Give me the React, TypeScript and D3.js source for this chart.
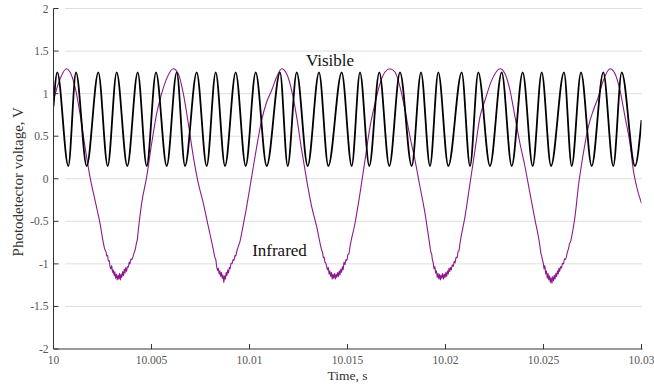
import React from 'react';
import * as d3 from 'd3';

// ---- Data (time offsets in ms after t = 10 s, voltages in V) ----
const X_TICKS = [10, 10.005, 10.01, 10.015, 10.02, 10.025, 10.03];
const X_TICK_LABELS = ['10', '10.005', '10.01', '10.015', '10.02', '10.025', '10.03'];
const Y_TICKS = [-2, -1.5, -1, -0.5, 0, 0.5, 1, 1.5, 2];
const Y_TICK_LABELS = ['-2', '-1.5', '-1', '-0.5', '0', '0.5', '1', '1.5', '2'];

// Visible channel: start, alternating peaks / troughs, end
const visMs = [
  0, 0.194, 0.755, 1.148, 1.694, 2.286, 2.765, 3.224, 3.765, 4.296, 4.755, 5.23, 5.776,
  6.286, 6.709, 7.306, 7.816, 8.276, 8.75, 9.296, 9.806, 10.316, 10.878, 11.556, 11.949,
  12.408, 12.969, 13.546, 14.02, 14.704, 15.214, 15.638, 16.112, 16.622, 17.133, 17.679,
  18.276, 18.75, 19.209, 19.633, 20.143, 20.827, 21.25, 21.673, 22.27, 22.867, 23.378,
  23.939, 24.449, 24.908, 25.383, 26.046, 26.439, 26.913, 27.459, 28.051, 28.561, 28.99,
  29.668, 30,
];
const visV = [
  0.85, 1.25, 0.15, 1.25, 0.15, 1.25, 0.15, 1.25, 0.15, 1.25, 0.15, 1.25, 0.15,
  1.25, 0.15, 1.25, 0.15, 1.25, 0.15, 1.25, 0.15, 1.25, 0.15, 1.25, 0.15,
  1.25, 0.15, 1.25, 0.15, 1.25, 0.15, 1.25, 0.15, 1.25, 0.15, 1.25,
  0.15, 1.25, 0.15, 1.25, 0.15, 1.25, 0.15, 1.25, 0.15, 1.25, 0.15,
  1.25, 0.15, 1.25, 0.15, 1.25, 0.15, 1.25, 0.15, 1.25, 0.15, 1.25,
  0.15, 0.69,
];

// Infrared channel, [ms, V], one array per cycle
const irCycle1: [number, number][] = [
  [0, 0.92], [0.247, 1.117], [0.672, 1.293], [0.842, 1.254], [1.097, 1.078], [1.352, 0.766],
  [1.607, 0.375], [1.862, 0.023], [2.117, -0.25], [2.372, -0.523], [2.628, -0.836],
  [2.68, -0.86], [2.72, -0.91], [2.76, -0.9], [2.8, -0.97], [2.84, -0.96], [2.883, -1.031],
  [2.93, -1.06], [2.97, -1.02], [3.01, -1.1], [3.05, -1.07], [3.09, -1.14], [3.13, -1.09],
  [3.17, -1.17], [3.21, -1.12], [3.25, -1.19], [3.29, -1.13], [3.33, -1.18], [3.37, -1.11],
  [3.41, -1.19], [3.45, -1.12], [3.49, -1.16], [3.53, -1.09], [3.57, -1.14], [3.61, -1.06],
  [3.65, -1.11], [3.69, -1.04], [3.73, -1.09], [3.77, -1.03], [3.82, -1.04], [3.86, -0.98],
  [3.9, -1.0], [3.95, -0.94], [4.0, -0.95], [4.073, -0.9], [4.13, -0.86], [4.18, -0.82],
  [4.23, -0.76], [4.28, -0.71], [4.328, -0.602], [4.497, -0.289], [4.753, 0.023],
  [5.008, 0.414], [5.263, 0.766], [5.518, 1.0], [5.773, 1.176],
];
const irCycle2: [number, number][] = [
  [6.112, 1.293], [6.369, 1.234], [6.624, 1.0], [6.879, 0.648], [7.135, 0.258], [7.39, -0.055],
  [7.645, -0.289], [7.9, -0.563], [8.155, -0.836], [8.2, -0.89], [8.24, -0.93], [8.28, -0.95],
  [8.325, -1.031], [8.37, -1.08], [8.41, -1.05], [8.45, -1.12], [8.49, -1.08], [8.53, -1.15],
  [8.57, -1.1], [8.61, -1.17], [8.65, -1.13], [8.69, -1.22], [8.73, -1.14], [8.77, -1.18],
  [8.81, -1.1], [8.85, -1.14], [8.89, -1.07], [8.93, -1.11], [8.97, -1.04], [9.01, -1.06],
  [9.06, -0.99], [9.11, -1.0], [9.16, -0.95], [9.21, -0.96], [9.26, -0.9], [9.3, -0.91],
  [9.345, -0.86], [9.4, -0.82], [9.45, -0.78], [9.5, -0.75], [9.55, -0.7], [9.6, -0.64],
  [9.855, -0.328], [10.11, 0.023], [10.366, 0.375], [10.621, 0.688], [10.876, 0.902],
  [11.131, 1.039], [11.386, 1.195],
];
const irCycle3: [number, number][] = [
  [11.641, 1.293], [11.896, 1.234], [12.151, 1.039], [12.406, 0.727], [12.662, 0.336],
  [12.917, -0.016], [13.172, -0.328], [13.427, -0.563], [13.682, -0.836], [13.73, -0.87],
  [13.77, -0.93], [13.81, -0.92], [13.85, -0.98], [13.89, -0.99], [13.937, -1.031],
  [13.98, -1.07], [14.02, -1.04], [14.06, -1.12], [14.1, -1.08], [14.14, -1.15], [14.18, -1.1],
  [14.22, -1.18], [14.26, -1.12], [14.3, -1.17], [14.34, -1.11], [14.38, -1.18], [14.42, -1.12],
  [14.46, -1.16], [14.5, -1.1], [14.54, -1.15], [14.58, -1.08], [14.62, -1.13], [14.66, -1.06],
  [14.7, -1.1], [14.74, -1.03], [14.78, -1.07], [14.82, -0.98], [14.87, -1.01], [14.92, -0.95],
  [14.97, -0.96], [15.02, -0.89], [15.07, -0.88], [15.128, -0.797], [15.383, -0.523],
  [15.638, -0.172], [15.893, 0.219], [16.148, 0.609], [16.403, 0.883], [16.658, 1.117],
  [16.913, 1.254],
];
const irCycle4: [number, number][] = [
  [17.168, 1.293], [17.423, 1.254], [17.679, 1.078], [17.934, 0.805], [18.189, 0.492],
  [18.444, 0.219], [18.699, -0.094], [18.954, -0.406], [19.209, -0.797], [19.25, -0.86],
  [19.29, -0.88], [19.33, -0.95], [19.379, -0.992], [19.42, -1.06], [19.46, -1.03], [19.5, -1.11],
  [19.54, -1.08], [19.58, -1.16], [19.62, -1.11], [19.66, -1.18], [19.7, -1.12], [19.74, -1.19],
  [19.78, -1.13], [19.82, -1.17], [19.86, -1.11], [19.9, -1.18], [19.94, -1.12], [19.98, -1.16],
  [20.02, -1.1], [20.06, -1.15], [20.1, -1.08], [20.14, -1.12], [20.18, -1.05], [20.22, -1.09],
  [20.26, -1.04], [20.3, -1.07], [20.34, -1.01], [20.4, -1.03], [20.44, -0.97], [20.49, -0.99],
  [20.54, -0.92], [20.59, -0.93], [20.64, -0.86], [20.69, -0.84], [20.74, -0.758],
  [20.995, -0.445], [21.25, -0.055], [21.505, 0.336], [21.76, 0.727], [22.015, 0.922],
  [22.355, 1.156],
];
const irCycle5: [number, number][] = [
  [22.781, 1.293], [23.036, 1.234], [23.291, 1.039], [23.546, 0.727], [23.801, 0.414],
  [24.056, 0.141], [24.311, -0.172], [24.566, -0.484], [24.821, -0.797], [24.86, -0.87],
  [24.9, -0.9], [24.95, -0.96], [24.991, -0.992], [25.03, -1.06], [25.07, -1.02], [25.11, -1.12],
  [25.15, -1.08], [25.19, -1.17], [25.23, -1.11], [25.27, -1.19], [25.31, -1.14], [25.35, -1.22],
  [25.39, -1.16], [25.43, -1.23], [25.47, -1.15], [25.51, -1.2], [25.55, -1.13], [25.59, -1.18],
  [25.63, -1.11], [25.67, -1.15], [25.71, -1.08], [25.75, -1.12], [25.79, -1.05], [25.83, -1.09],
  [25.87, -1.03], [25.92, -1.05], [25.97, -0.99], [26.02, -1.0], [26.07, -0.94], [26.12, -0.95],
  [26.182, -0.9], [26.23, -0.85], [26.28, -0.82], [26.33, -0.76], [26.38, -0.74], [26.437, -0.68],
  [26.607, -0.445], [26.777, -0.094], [27.032, 0.297], [27.287, 0.609], [27.543, 0.805],
  [27.798, 0.961], [28.053, 1.156],
];
const irCycle6: [number, number][] = [
  [28.393, 1.293], [28.648, 1.234], [28.903, 1.039], [29.158, 0.727], [29.413, 0.414],
  [29.583, 0.102], [29.753, -0.094], [30, -0.289],
];

const SERIES_LABELS = ['Visible', 'Infrared'];
const X_LABEL = 'Time, s';
const Y_LABEL = 'Photodetector voltage, V';

const W = 654;
const H = 389;
const L = 53.5;
const R = 641.5;
const T = 8.5;
const B = 349;
const FONT = '"Liberation Serif", "DejaVu Serif", serif';

export default function App() {
  const x = d3.scaleLinear().domain([10, 10.03]).range([L, R]);
  const y = d3.scaleLinear().domain([-2, 2]).range([B, T]);

  const vis: [number, number][] = visMs.map((m, i) => [10 + m / 1000, visV[i]]);
  const ir: [number, number][] = [
    ...irCycle1,
    ...irCycle2,
    ...irCycle3,
    ...irCycle4,
    ...irCycle5,
    ...irCycle6,
  ].map(([m, v]) => [10 + m / 1000, v]);

  const line = d3
    .line<[number, number]>()
    .x((d) => x(d[0]))
    .y((d) => y(d[1]))
    .curve(d3.curveMonotoneX);

  return (
    <svg
      width={W}
      height={H}
      style={{ position: 'absolute', left: 0, top: 0, background: '#fff' }}
      fontFamily={FONT}
    >
      <defs>
        <clipPath id="plotClip">
          <rect x={L} y={T - 2} width={R - L} height={B - T + 4} />
        </clipPath>
      </defs>
      {Y_TICKS.filter((v) => v > -2).map((v) => (
        <line key={'g' + v} x1={65} x2={642} y1={y(v)} y2={y(v)} stroke="#dedede" strokeWidth={1} />
      ))}
      <g clipPath="url(#plotClip)">
        <path d={line(ir) || ''} fill="none" stroke="#8c1a8c" strokeWidth={1.1} />
        <path d={line(vis) || ''} fill="none" stroke="#000" strokeWidth={1.8} />
      </g>
      <line x1={L} x2={L} y1={T} y2={B} stroke="#333" strokeWidth={1} />
      <line x1={L} x2={R + 1} y1={B} y2={B} stroke="#333" strokeWidth={1} />
      {Y_TICKS.map((v, i) => (
        <g key={'y' + v}>
          <line x1={L} x2={L + 5} y1={y(v)} y2={y(v)} stroke="#333" />
          <text x={L - 5} y={y(v)} dy="0.35em" textAnchor="end" fontSize={11.5} fill="#555">
            {Y_TICK_LABELS[i]}
          </text>
        </g>
      ))}
      {X_TICKS.map((v, i) => (
        <g key={'x' + v}>
          <line x1={x(v)} x2={x(v)} y1={B} y2={B - 5} stroke="#333" />
          <text x={x(v)} y={364} textAnchor="middle" fontSize={11.5} fill="#555">
            {X_TICK_LABELS[i]}
          </text>
        </g>
      ))}
      <text x={(L + R) / 2} y={380} textAnchor="middle" fontSize={13.5} fill="#333">
        {X_LABEL}
      </text>
      <text
        transform={`translate(23, ${(T + B) / 2 + 3}) rotate(-90)`}
        textAnchor="middle"
        fontSize={15}
        fill="#333"
      >
        {Y_LABEL}
      </text>
      <text x={330} y={66} textAnchor="middle" fontSize={17} fill="#111">
        {SERIES_LABELS[0]}
      </text>
      <text x={279.5} y={256} textAnchor="middle" fontSize={17} fill="#111">
        {SERIES_LABELS[1]}
      </text>
    </svg>
  );
}
